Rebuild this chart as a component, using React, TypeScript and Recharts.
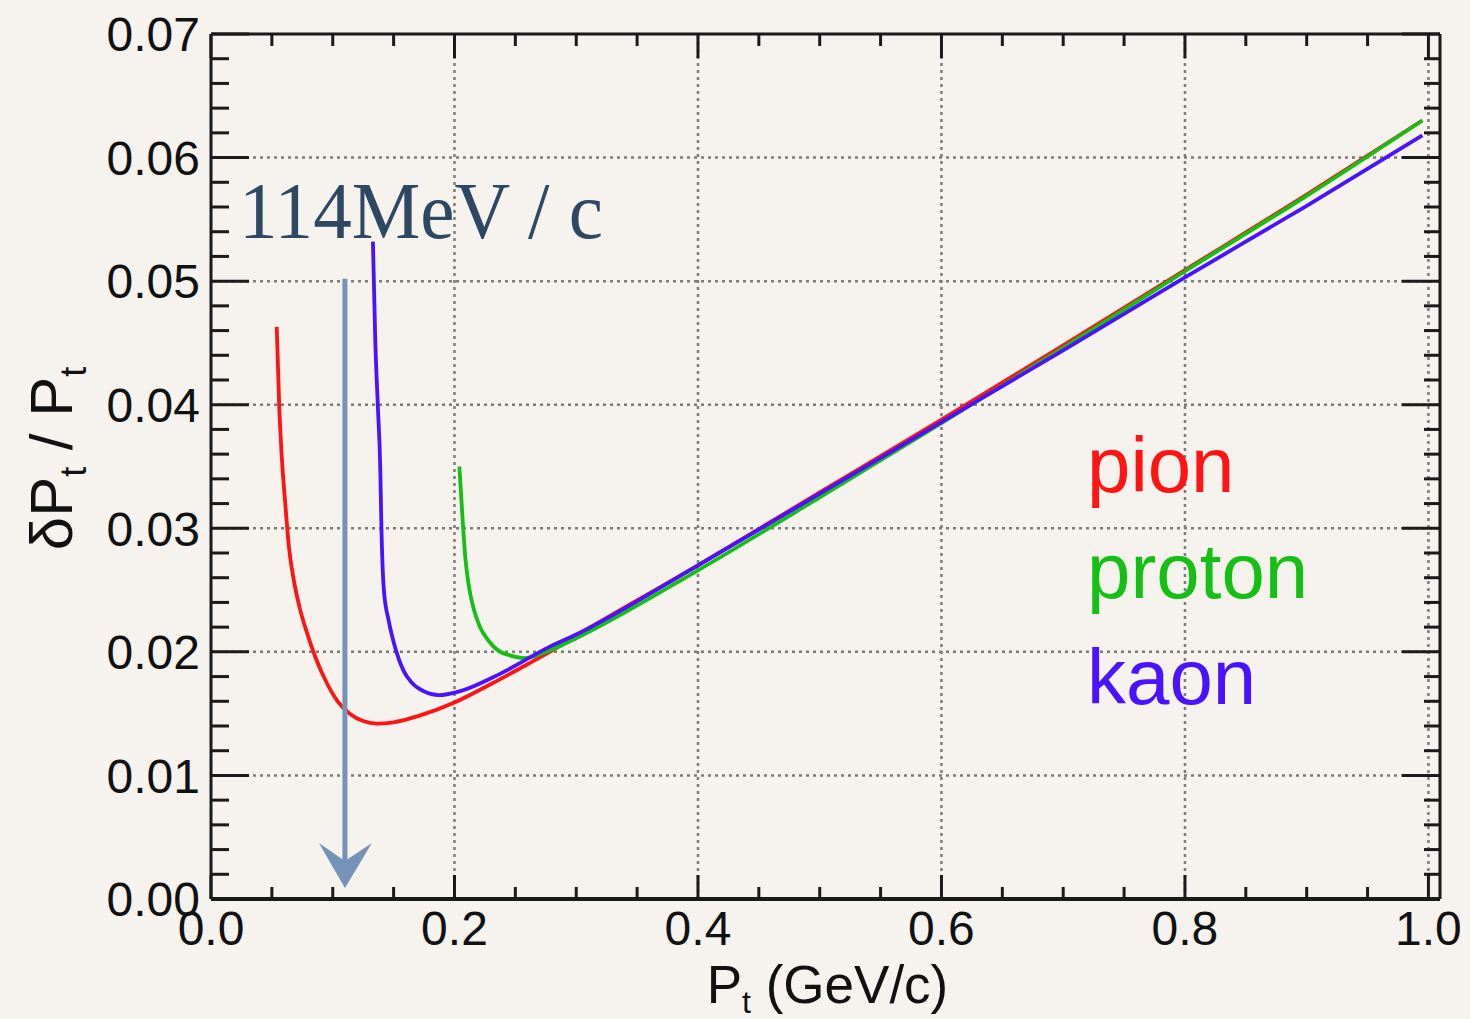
import { LineChart, Line, XAxis, YAxis, ReferenceLine, Legend, Label } from 'recharts';

// pT (GeV/c) vs dPt/Pt
const PION_PT = [0.054, 0.056, 0.058, 0.061, 0.064, 0.068, 0.073, 0.079, 0.086, 0.095, 0.104, 0.114, 0.125, 0.136, 0.15, 0.17, 0.2, 0.23, 0.26, 0.28, 0.3, 0.4, 0.5, 0.6, 0.7, 0.8, 0.9, 0.995];
const PION_RES = [0.0463, 0.040, 0.036, 0.032, 0.0285, 0.0258, 0.0235, 0.0215, 0.0195, 0.0175, 0.0160, 0.0150, 0.0144, 0.0142, 0.0143, 0.0148, 0.0159, 0.0174, 0.0190, 0.0201, 0.0213, 0.0270, 0.0329, 0.0388, 0.0448, 0.0509, 0.0570, 0.0630];

const PROTON_PT = [0.204, 0.2065, 0.209, 0.212, 0.216, 0.221, 0.228, 0.236, 0.246, 0.258, 0.27, 0.285, 0.3, 0.4, 0.5, 0.6, 0.7, 0.8, 0.9, 0.995];
const PROTON_RES = [0.0350, 0.031, 0.0275, 0.0252, 0.0234, 0.0220, 0.0209, 0.0201, 0.0197, 0.0195, 0.0198, 0.0204, 0.0211, 0.0266, 0.0325, 0.0385, 0.0446, 0.0508, 0.0569, 0.0630];

const KAON_PT = [0.133, 0.135, 0.137, 0.139, 0.14, 0.142, 0.146, 0.152, 0.158, 0.165, 0.175, 0.187, 0.204, 0.237, 0.278, 0.3, 0.4, 0.5, 0.6, 0.7, 0.8, 0.9, 0.995];
const KAON_RES = [0.0532, 0.045, 0.040, 0.035, 0.030, 0.025, 0.0225, 0.0201, 0.0185, 0.0175, 0.0168, 0.0165, 0.0168, 0.0182, 0.0204, 0.0214, 0.0270, 0.0328, 0.0386, 0.0444, 0.0503, 0.0561, 0.0618];

const X_TICKS = [0, 0.05, 0.1, 0.15, 0.2, 0.25, 0.3, 0.35, 0.4, 0.45, 0.5, 0.55, 0.6, 0.65, 0.7, 0.75, 0.8, 0.85, 0.9, 0.95, 1.0];
const X_LABELED = [0, 0.2, 0.4, 0.6, 0.8, 1.0];
const X_GRID = [0.2, 0.4, 0.6, 0.8, 1.0];
const Y_TICKS = Array.from({ length: 36 }, (_, i) => +(i * 0.002).toFixed(3));
const Y_LABELED = [0, 0.01, 0.02, 0.03, 0.04, 0.05, 0.06, 0.07];
const Y_GRID = [0.01, 0.02, 0.03, 0.04, 0.05, 0.06];

// annotation: arrow at ~114 MeV/c
const ARROW_PT = 0.11;
const ARROW_FROM = 0.0502;
const ARROW_TO = 0.0009;

const zip = (xs: number[], ys: number[]) => xs.map((x, i) => ({ x, y: ys[i] }));

const SERIES = [
  { name: 'pion', color: '#ff1414', data: zip(PION_PT, PION_RES) },
  { name: 'proton', color: '#14c014', data: zip(PROTON_PT, PROTON_RES) },
  { name: 'kaon', color: '#4a12ff', data: zip(KAON_PT, KAON_RES) },
];

const SANS = '"Liberation Sans", Arial, Helvetica, sans-serif';
const FRAME = '#1a1a1a';
const GRID = '#7c7c7c';
const ARROW = '#7592b8';

const BottomTick = (p: any) => {
  const { x, y, payload } = p;
  const major = X_LABELED.includes(payload.value);
  return (
    <g>
      <line x1={x} x2={x} y1={y} y2={y - (major ? 24 : 12)} stroke={FRAME} strokeWidth={3} />
      {major && (
        <text x={x} y={y + 46} textAnchor="middle" fontSize={48} fontFamily={SANS} fill="#111">
          {payload.value.toFixed(1)}
        </text>
      )}
    </g>
  );
};

const TopTick = (p: any) => {
  const { x, y, payload } = p;
  const major = X_LABELED.includes(payload.value);
  return <line x1={x} x2={x} y1={y} y2={y + (major ? 24 : 12)} stroke={FRAME} strokeWidth={3} />;
};

const LeftTick = (p: any) => {
  const { x, y, payload } = p;
  const major = Y_LABELED.includes(payload.value);
  return (
    <g>
      <line x1={x} x2={x + (major ? 38 : 18)} y1={y} y2={y} stroke={FRAME} strokeWidth={3} />
      {major && (
        <text x={x - 11} y={y} dy="0.36em" textAnchor="end" fontSize={48} fontFamily={SANS} fill="#111">
          {payload.value.toFixed(2)}
        </text>
      )}
    </g>
  );
};

const RightTick = (p: any) => {
  const { x, y, payload } = p;
  const major = Y_LABELED.includes(payload.value);
  return <line x1={x} x2={x - (major ? 38 : 16)} y1={y} y2={y} stroke={FRAME} strokeWidth={3} />;
};

const ArrowShape = (p: any) => {
  const { x1, y1, y2 } = p;
  return (
    <g>
      <line x1={x1} x2={x1} y1={y1} y2={y2 - 24} stroke={ARROW} strokeWidth={5} />
      <path d={`M${x1},${y2} L${x1 - 26},${y2 - 45} L${x1},${y2 - 27} L${x1 + 27},${y2 - 45} Z`} fill={ARROW} />
      <text
        x={x1 - 106}
        y={y1 - 41}
        fontSize={80}
        fontFamily='"Liberation Serif", "DejaVu Serif", serif'
        fill="#2e4763"
        textLength={364}
        lengthAdjust="spacingAndGlyphs"
      >
        114MeV / c
      </text>
    </g>
  );
};

const LegendBox = ({ payload }: any) => {
  const items = [...(payload || [])]
    .filter((e: any) => SERIES.some((s) => s.name === e.value))
    .sort((a: any, b: any) => SERIES.findIndex((s) => s.name === a.value) - SERIES.findIndex((s) => s.name === b.value));
  return (
    <div>
      {items.map((e: any) => (
        <div key={e.value} style={{ color: e.color, fontSize: 78, lineHeight: '106px', fontFamily: SANS }}>
          {e.value}
        </div>
      ))}
    </div>
  );
};

export default function App() {
  return (
    <div style={{ position: 'absolute', left: 0, top: 0, width: 1470, height: 1019, background: '#f6f3ee' }}>
      <LineChart width={1470} height={1019} margin={{ top: 33, right: 29, bottom: 0, left: 61 }}>
        <XAxis
          type="number"
          dataKey="x"
          domain={[0, 1.0095]}
          allowDataOverflow
          ticks={X_TICKS}
          interval={0}
          tick={BottomTick}
          tickLine={false}
          tickSize={0}
          tickMargin={0}
          height={120}
          axisLine={{ stroke: FRAME, strokeWidth: 4 }}
        >
          <Label
            content={(props: any) => {
              const vb = props.viewBox;
              return (
                <text x={vb.x + vb.width / 2 + 2} y={vb.y + 104} textAnchor="middle" fontSize={53} fontFamily={SANS} fill="#111">
                  P
                  <tspan dy={10} fontSize={32}>t</tspan>
                  <tspan dy={-10}> (GeV/c)</tspan>
                </text>
              );
            }}
          />
        </XAxis>
        <XAxis
          xAxisId="top"
          orientation="top"
          type="number"
          dataKey="x"
          domain={[0, 1.0095]}
          allowDataOverflow
          ticks={X_TICKS}
          interval={0}
          tick={TopTick}
          tickLine={false}
          tickSize={0}
          tickMargin={0}
          height={1}
          axisLine={{ stroke: FRAME, strokeWidth: 3 }}
        />
        <YAxis
          type="number"
          domain={[0, 0.07]}
          allowDataOverflow
          ticks={Y_TICKS}
          interval={0}
          tick={LeftTick}
          tickLine={false}
          tickSize={0}
          tickMargin={0}
          width={150}
          axisLine={{ stroke: FRAME, strokeWidth: 3 }}
        >
          <Label
            content={(props: any) => {
              const vb = props.viewBox;
              const cx = vb.x + 11;
              const cy = vb.y + vb.height / 2 - 8;
              return (
                <text
                  x={cx}
                  y={cy}
                  transform={`rotate(-90 ${cx} ${cy})`}
                  textAnchor="middle"
                  fontSize={60}
                  fontFamily={SANS}
                  fill="#111"
                >
                  δP
                  <tspan dy={14} fontSize={36}>t</tspan>
                  <tspan dy={-14}> / P</tspan>
                  <tspan dy={14} fontSize={36}>t</tspan>
                </text>
              );
            }}
          />
        </YAxis>
        <YAxis
          yAxisId="right"
          orientation="right"
          type="number"
          domain={[0, 0.07]}
          allowDataOverflow
          ticks={Y_TICKS}
          interval={0}
          tick={RightTick}
          tickLine={false}
          tickSize={0}
          tickMargin={0}
          width={1}
          axisLine={{ stroke: FRAME, strokeWidth: 3 }}
        />
        {X_GRID.map((v) => (
          <ReferenceLine key={`gx${v}`} x={v} stroke={GRID} strokeWidth={2.5} strokeDasharray="3 4" />
        ))}
        {Y_GRID.map((v) => (
          <ReferenceLine key={`gy${v}`} y={v} stroke={GRID} strokeWidth={2.5} strokeDasharray="3 4" />
        ))}
        {/* invisible series so the top/right frame axes get a domain */}
        <Line
          xAxisId="top"
          yAxisId="right"
          name="frame"
          data={SERIES[0].data}
          dataKey="y"
          stroke="none"
          legendType="none"
          dot={false}
          activeDot={false}
          isAnimationActive={false}
        />
        {SERIES.map((s) => (
          <Line
            key={s.name}
            name={s.name}
            data={s.data}
            dataKey="y"
            type="monotone"
            stroke={s.color}
            strokeWidth={3.8}
            dot={false}
            activeDot={false}
            isAnimationActive={false}
          />
        ))}
        <ReferenceLine
          segment={[
            { x: ARROW_PT, y: ARROW_FROM },
            { x: ARROW_PT, y: ARROW_TO },
          ]}
          shape={ArrowShape}
        />
        <Legend
          layout="vertical"
          align="center"
          verticalAlign="middle"
          width={300}
          height={330}
          wrapperStyle={{ left: 1087, top: 412 }}
          content={LegendBox}
        />
      </LineChart>
    </div>
  );
}
